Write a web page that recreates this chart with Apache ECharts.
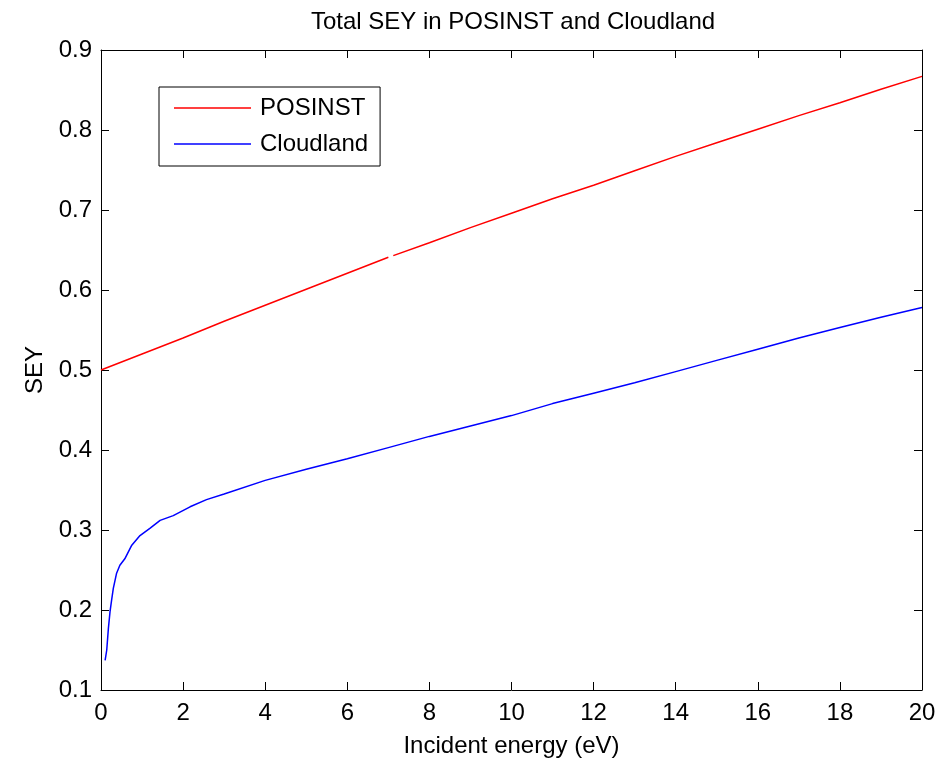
<!DOCTYPE html>
<html>
<head>
<meta charset="utf-8">
<script src="https://cdn.jsdelivr.net/npm/echarts@6/dist/echarts.min.js"></script>
<style>html,body{margin:0;padding:0;background:#fff;}#c{width:948px;height:763px;}</style>
</head>
<body>
<div id="c"></div>
<script>
// Data (incident energy in eV, SEY)
const posinstX = [0, 1, 2, 3, 4, 5, 6, 7, 7.06, 7.12, 8, 9, 10, 11, 12, 13, 14, 15, 16, 17, 18, 19, 20];
const posinstY = [0.500, 0.520, 0.540, 0.561, 0.581, 0.601, 0.621, 0.641, null, 0.643, 0.659, 0.678, 0.696, 0.714, 0.731, 0.749, 0.767, 0.784, 0.801, 0.818, 0.834, 0.851, 0.867];
const cloudX = [0.1, 0.14, 0.18, 0.22, 0.26, 0.3, 0.38, 0.46, 0.58, 0.75, 0.95, 1.19, 1.44, 1.76, 2.17, 2.57, 3, 4, 5, 6, 7, 8, 9, 10, 11, 12, 13, 14, 15, 16, 17, 18, 19, 20];
const cloudY = [0.137, 0.150, 0.177, 0.198, 0.213, 0.227, 0.246, 0.256, 0.264, 0.281, 0.293, 0.302, 0.312, 0.318, 0.329, 0.338, 0.345, 0.362, 0.376, 0.389, 0.403, 0.417, 0.430, 0.443, 0.458, 0.471, 0.484, 0.498, 0.512, 0.526, 0.540, 0.553, 0.566, 0.578];
const xTicks = [0, 2, 4, 6, 8, 10, 12, 14, 16, 18, 20];
const yTicks = [0.1, 0.2, 0.3, 0.4, 0.5, 0.6, 0.7, 0.8, 0.9];
const seriesNames = ['POSINST', 'Cloudland'];
const titleText = 'Total SEY in POSINST and Cloudland';
const xLabel = 'Incident energy (eV)';
const yLabel = 'SEY';

const FONT = 'Liberation Sans';
const FS = 24;
const pair = (xs, ys) => xs.map((x, i) => [x, ys[i]]);

const chart = echarts.init(document.getElementById('c'), null, {renderer: 'canvas'});
const axisLine = {show: true, onZero: false, lineStyle: {color: '#000', width: 1}};
const tick = {show: true, inside: true, length: 8, lineStyle: {color: '#000', width: 1}};
chart.setOption({
  backgroundColor: '#fff',
  animation: false,
  title: {
    text: titleText, left: 508, textAlign: 'center', top: 5,
    textStyle: {fontFamily: FONT, fontSize: FS, fontWeight: 'normal', color: '#000'}
  },
  legend: {
    orient: 'vertical', left: 159, top: 87,
    data: seriesNames.map(n => ({name: n, icon: 'rect'})),
    itemWidth: 77, itemHeight: 1.5, itemGap: 12,
    padding: [9, 12, 10, 15],
    borderColor: '#000', borderWidth: 1, backgroundColor: '#fff',
    textStyle: {fontFamily: FONT, fontSize: FS, color: '#000', lineHeight: 24, padding: [0, 0, 0, 4]}
  },
  grid: {left: 101, top: 50, right: 26, bottom: 69, containLabel: false},
  xAxis: [{
    type: 'value', min: 0, max: 20, interval: 2,
    name: xLabel, nameLocation: 'middle', nameGap: 44,
    nameTextStyle: {fontFamily: FONT, fontSize: FS, color: '#000'},
    axisLine: axisLine, axisTick: tick, splitLine: {show: false},
    axisLabel: {fontFamily: FONT, fontSize: FS, color: '#000', margin: 11,
      formatter: v => xTicks.includes(v) ? String(v) : ''}
  }, {
    type: 'value', min: 0, max: 20, interval: 2, position: 'top',
    axisLine: axisLine, axisTick: tick, axisLabel: {show: false}, splitLine: {show: false}
  }],
  yAxis: [{
    type: 'value', min: 0.1, max: 0.9, interval: 0.1,
    name: yLabel, nameLocation: 'middle', nameGap: 54,
    nameTextStyle: {fontFamily: FONT, fontSize: FS, color: '#000'},
    axisLine: axisLine, axisTick: tick, splitLine: {show: false},
    axisLabel: {fontFamily: FONT, fontSize: FS, color: '#000', margin: 9,
      formatter: v => { const t = yTicks.find(y => Math.abs(y - v) < 1e-6); return t !== undefined ? t.toFixed(1) : ''; }}
  }, {
    type: 'value', min: 0.1, max: 0.9, interval: 0.1, position: 'right',
    axisLine: axisLine, axisTick: tick, axisLabel: {show: false}, splitLine: {show: false}
  }],
  series: [{
    name: seriesNames[0], type: 'line', data: pair(posinstX, posinstY),
    showSymbol: false, symbol: 'none', connectNulls: false,
    lineStyle: {color: '#ff0000', width: 1.5}, itemStyle: {color: '#ff0000'}
  }, {
    name: seriesNames[1], type: 'line', data: pair(cloudX, cloudY),
    showSymbol: false, symbol: 'none',
    lineStyle: {color: '#0000ff', width: 1.5}, itemStyle: {color: '#0000ff'}
  }]
});
</script>
</body>
</html>
